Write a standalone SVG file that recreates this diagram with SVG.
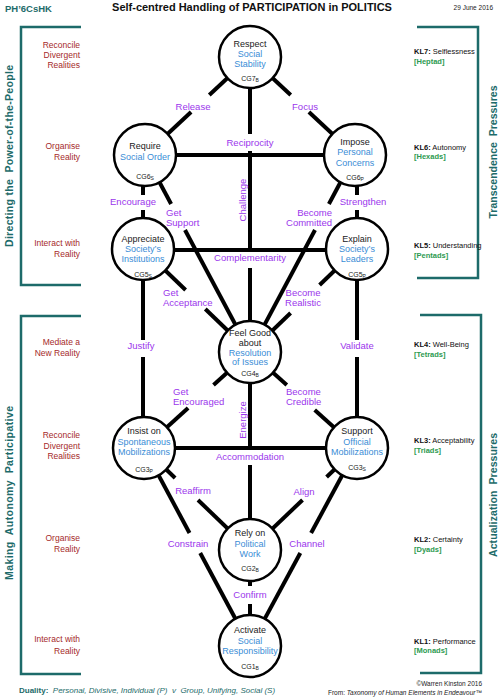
<svg xmlns="http://www.w3.org/2000/svg" width="500" height="700" viewBox="0 0 500 700">
<style>
text{font-family:"Liberation Sans",Arial,sans-serif}
.br{fill:none;stroke:#1d6b6a;stroke-width:2.5}
.side{font-size:10.5px;font-weight:bold;fill:#1d6b6a;text-anchor:middle}
.lv{font-size:8.5px;fill:#a52a2a;text-anchor:end}
.kl{font-size:7.5px;fill:#111}
.gr{font-size:7.5px;font-weight:bold;fill:#2c9a50}
.n circle{fill:#fff;stroke:#000;stroke-width:2.5}
.n text{font-size:9px;text-anchor:middle;fill:#222}
.n .bl{fill:#3a8dd6}
.n .cg{font-size:7px}
.n .s{font-size:5px}
.c line{stroke:#000;stroke-width:4}
.lb{font-size:9.5px;fill:#9b36ec}
.m{text-anchor:middle}
.e{text-anchor:end}
</style>
<rect width="500" height="700" fill="#fff"/>
<g id="header">
<text x="5" y="12" font-size="9.5" font-weight="bold" fill="#1d6b6a">PH’6CsHK</text>
<text x="252" y="11" font-size="11" font-weight="bold" fill="#111" class="m">Self-centred Handling of PARTICIPATION in POLITICS</text>
<text x="493" y="10" font-size="6.5" fill="#222" class="e">29 June 2016</text>
</g>
<g id="brackets">
<path class="br" d="M81,27 H21 V285 H81"/>
<path class="br" d="M81,316 H21 V674 H81"/>
<path class="br" d="M417,27 H478 V278 H417"/>
<path class="br" d="M420,315 H481 V673 H420"/>
<text class="side" transform="translate(13,156) rotate(-90)" xml:space="preserve" textLength="182" lengthAdjust="spacing">Directing the  Power-of-the-People</text>
<text class="side" transform="translate(13,493) rotate(-90)" xml:space="preserve" textLength="174" lengthAdjust="spacing">Making  Autonomy  Participative</text>
<text class="side" transform="translate(497,152) rotate(-90)" xml:space="preserve" textLength="133" lengthAdjust="spacing">Transcendence  Pressures</text>
<text class="side" transform="translate(497,495) rotate(-90)" xml:space="preserve" textLength="124" lengthAdjust="spacing">Actualization  Pressures</text>
</g>
<g id="levels-left">
<text class="lv" x="80" y="48">Reconcile</text><text class="lv" x="80" y="58">Divergent</text><text class="lv" x="80" y="68">Realities</text>
<text class="lv" x="80" y="149">Organise</text><text class="lv" x="80" y="160">Reality</text>
<text class="lv" x="80" y="246">Interact with</text><text class="lv" x="80" y="257">Reality</text>
<text class="lv" x="80" y="345">Mediate a</text><text class="lv" x="80" y="356">New Reality</text>
<text class="lv" x="80" y="438">Reconcile</text><text class="lv" x="80" y="449">Divergent</text><text class="lv" x="80" y="459">Realities</text>
<text class="lv" x="80" y="541">Organise</text><text class="lv" x="80" y="552">Reality</text>
<text class="lv" x="80" y="642">Interact with</text><text class="lv" x="80" y="654">Reality</text>
</g>
<g id="levels-right">
<text class="kl" x="414" y="54"><tspan font-weight="bold">KL7:</tspan> Selflessness</text><text class="gr" x="414" y="64">[Heptad]</text>
<text class="kl" x="414" y="150"><tspan font-weight="bold">KL6:</tspan> Autonomy</text><text class="gr" x="414" y="159">[Hexads]</text>
<text class="kl" x="414" y="248"><tspan font-weight="bold">KL5:</tspan> Understanding</text><text class="gr" x="414" y="258">[Pentads]</text>
<text class="kl" x="414" y="347"><tspan font-weight="bold">KL4:</tspan> Well-Being</text><text class="gr" x="414" y="357">[Tetrads]</text>
<text class="kl" x="414" y="443"><tspan font-weight="bold">KL3:</tspan> Acceptability</text><text class="gr" x="414" y="453">[Triads]</text>
<text class="kl" x="414" y="542"><tspan font-weight="bold">KL2:</tspan> Certainty</text><text class="gr" x="414" y="552">[Dyads]</text>
<text class="kl" x="414" y="644"><tspan font-weight="bold">KL1:</tspan> Performance</text><text class="gr" x="414" y="653">[Monads]</text>
</g>
<g id="connectors" class="c">
<line x1="250" y1="57" x2="209.3" y2="95"/><line x1="191.1" y1="112" x2="145" y2="155"/>
<line x1="250" y1="57" x2="290.7" y2="95"/><line x1="308.9" y1="112" x2="355" y2="155"/>
<line x1="145" y1="155" x2="355" y2="155"/>
<line x1="250" y1="57" x2="250" y2="134"/><line x1="250" y1="151" x2="250" y2="252"/><line x1="250" y1="268" x2="250" y2="352"/>
<line x1="143" y1="250" x2="357" y2="250"/>
<line x1="143" y1="155" x2="143" y2="195"/><line x1="143" y1="210" x2="143" y2="249"/>
<line x1="357" y1="155" x2="357" y2="195"/><line x1="357" y1="210" x2="357" y2="249"/>
<line x1="145" y1="155" x2="171.1" y2="204"/><line x1="185" y1="230" x2="250" y2="352"/>
<line x1="355" y1="155" x2="328.9" y2="204"/><line x1="315" y1="230" x2="250" y2="352"/>
<line x1="143" y1="249" x2="185.6" y2="290"/><line x1="205.3" y1="309" x2="250" y2="352"/>
<line x1="357" y1="249" x2="319.6" y2="285"/><line x1="290.6" y1="313" x2="250" y2="352"/>
<line x1="143" y1="249" x2="143" y2="340"/><line x1="143" y1="357" x2="143" y2="448"/>
<line x1="357" y1="249" x2="357" y2="340"/><line x1="357" y1="357" x2="357" y2="448"/>
<line x1="250" y1="352" x2="213.5" y2="385"/><line x1="188.1" y1="408" x2="144" y2="448"/>
<line x1="250" y1="352" x2="286.8" y2="385"/><line x1="314.7" y1="410" x2="357" y2="448"/>
<line x1="250" y1="352" x2="250" y2="450"/><line x1="250" y1="465" x2="250" y2="550"/>
<line x1="144" y1="448" x2="357" y2="448"/>
<line x1="144" y1="448" x2="175.1" y2="478"/><line x1="198" y1="500" x2="250" y2="550"/>
<line x1="357" y1="448" x2="326.6" y2="477"/><line x1="302.5" y1="500" x2="250" y2="550"/>
<line x1="144" y1="448" x2="189.5" y2="533"/><line x1="200.2" y1="553" x2="250" y2="646"/>
<line x1="357" y1="448" x2="311.1" y2="533"/><line x1="300.3" y1="553" x2="250" y2="646"/>
<line x1="250" y1="550" x2="250" y2="586"/><line x1="250" y1="604" x2="250" y2="646"/>
<g id="connector-labels">
<text class="lb m" x="193" y="110">Release</text>
<text class="lb m" x="305" y="110">Focus</text>
<text class="lb m" x="250" y="146">Reciprocity</text>
<text class="lb m" transform="translate(246,200) rotate(-90)">Challenge</text>
<text class="lb m" x="133" y="205">Encourage</text>
<text class="lb m" x="363" y="205">Strengthen</text>
<text class="lb" x="166" y="216">Get</text><text class="lb" x="166" y="226">Support</text>
<text class="lb e" x="332" y="216">Become</text><text class="lb e" x="332" y="226">Committed</text>
<text class="lb m" x="250" y="261">Complementarity</text>
<text class="lb" x="163" y="296">Get</text><text class="lb" x="163" y="306">Acceptance</text>
<text class="lb m" x="303" y="296">Become</text><text class="lb m" x="303" y="306">Realistic</text>
<text class="lb m" x="141" y="349">Justify</text>
<text class="lb m" x="357" y="349">Validate</text>
<text class="lb" x="173" y="395">Get</text><text class="lb" x="173" y="405">Encouraged</text>
<text class="lb" x="286" y="395">Become</text><text class="lb" x="286" y="405">Credible</text>
<text class="lb m" transform="translate(246,420) rotate(-90)">Energize</text>
<text class="lb m" x="250" y="460">Accommodation</text>
<text class="lb m" x="193" y="494">Reaffirm</text>
<text class="lb m" x="304" y="495">Align</text>
<text class="lb m" x="188" y="547">Constrain</text>
<text class="lb m" x="307" y="547">Channel</text>
<text class="lb m" x="250" y="598">Confirm</text>
</g>
</g>
<g id="CG7" class="n"><circle cx="250" cy="57" r="31"/>
<text x="250" y="47">Respect</text><text class="bl" x="250" y="57">Social</text><text class="bl" x="250" y="67">Stability</text>
<text class="cg" x="250" y="81">CG7<tspan class="s" dy="1">B</tspan></text></g>
<g id="CG6S" class="n"><circle cx="145" cy="155" r="31"/>
<text x="145" y="149">Require</text><text class="bl" x="145" y="160">Social Order</text>
<text class="cg" x="145" y="179">CG6<tspan class="s" dy="1">S</tspan></text></g>
<g id="CG6P" class="n"><circle cx="355" cy="155" r="31"/>
<text x="355" y="145">Impose</text><text class="bl" x="355" y="155">Personal</text><text class="bl" x="355" y="166">Concerns</text>
<text class="cg" x="355" y="180">CG6<tspan class="s" dy="1">P</tspan></text></g>
<g id="CG5S" class="n"><circle cx="143" cy="249" r="31"/>
<text x="143" y="242">Appreciate</text><text class="bl" x="143" y="252">Society’s</text><text class="bl" x="143" y="262">Institutions</text>
<text class="cg" x="143" y="277">CG5<tspan class="s" dy="1">S</tspan></text></g>
<g id="CG5P" class="n"><circle cx="357" cy="249" r="31"/>
<text x="357" y="242">Explain</text><text class="bl" x="357" y="252">Society’s</text><text class="bl" x="357" y="262">Leaders</text>
<text class="cg" x="357" y="277">CG5<tspan class="s" dy="1">P</tspan></text></g>
<g id="CG4" class="n"><circle cx="250" cy="352" r="31"/>
<text x="250" y="336">Feel Good</text><text x="250" y="346">about</text><text class="bl" x="250" y="356">Resolution</text><text class="bl" x="250" y="365">of Issues</text>
<text class="cg" x="250" y="376">CG4<tspan class="s" dy="1">B</tspan></text></g>
<g id="CG3P" class="n"><circle cx="144" cy="448" r="31"/>
<text x="144" y="434">Insist on</text><text class="bl" x="144" y="445">Spontaneous</text><text class="bl" x="144" y="455">Mobilizations</text>
<text class="cg" x="144" y="472">CG3<tspan class="s" dy="1">P</tspan></text></g>
<g id="CG3S" class="n"><circle cx="357" cy="448" r="31"/>
<text x="357" y="434">Support</text><text class="bl" x="357" y="445">Official</text><text class="bl" x="357" y="455">Mobilizations</text>
<text class="cg" x="357" y="470">CG3<tspan class="s" dy="1">S</tspan></text></g>
<g id="CG2" class="n"><circle cx="250" cy="550" r="31"/>
<text x="250" y="536">Rely on</text><text class="bl" x="250" y="547">Political</text><text class="bl" x="250" y="557">Work</text>
<text class="cg" x="250" y="571">CG2<tspan class="s" dy="1">B</tspan></text></g>
<g id="CG1" class="n"><circle cx="250" cy="646" r="31"/>
<text x="250" y="633">Activate</text><text class="bl" x="250" y="644">Social</text><text class="bl" x="250" y="654">Responsibility</text>
<text class="cg" x="250" y="669">CG1<tspan class="s" dy="1">B</tspan></text></g>
<g id="footer">
<text x="19" y="693" font-size="8" fill="#1d6b6a" xml:space="preserve"><tspan font-weight="bold">Duality:</tspan>  <tspan font-style="italic">Personal, Divisive, Individual (P)  v  Group, Unifying, Social (S)</tspan></text>
<text x="482" y="686" font-size="6.5" fill="#222" class="e">©Warren Kinston 2016</text>
<text x="482" y="695" font-size="6.5" fill="#222" class="e">From: <tspan font-style="italic">Taxonomy of Human Elements in Endeavour™</tspan></text>
</g>
</svg>
